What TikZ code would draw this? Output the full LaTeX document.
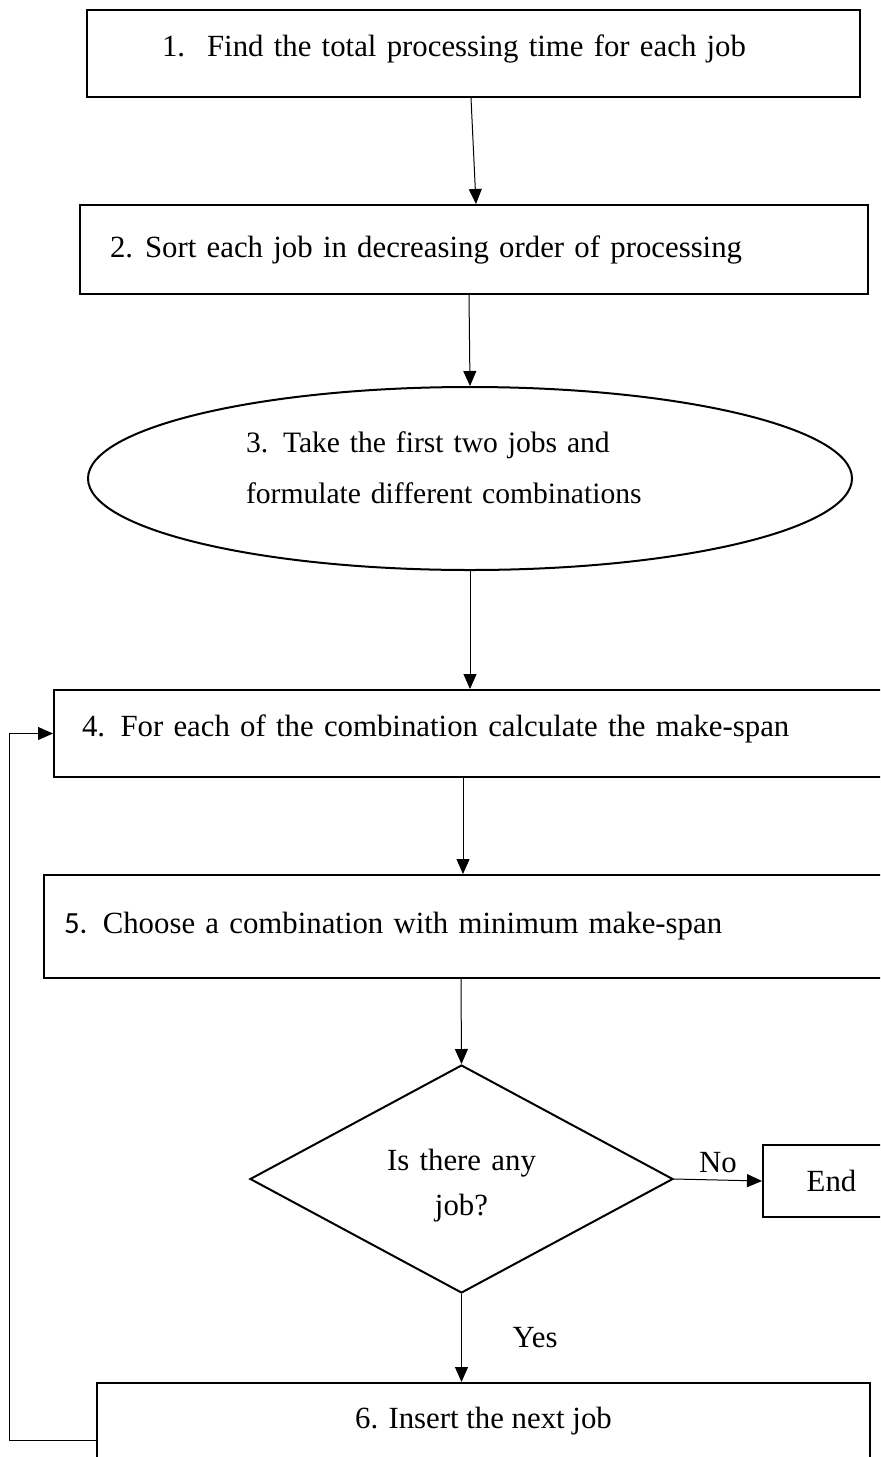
\documentclass[tikz,border=0pt]{standalone}
\usepackage{fontspec}
\setmainfont{Liberation Serif}
\newfontfamily\calfont{Carlito}
\usetikzlibrary{arrows.meta,shapes,positioning,calc}

\begin{document}
\begin{tikzpicture}[
        x=0.5pt, y=-0.5pt,
        every node/.style={font=\fontsize{15.4}{19}\selectfont},
        box/.style={draw, line width=1pt, rectangle, align=left, inner ysep=0pt},
        oval/.style={draw, line width=1pt, ellipse, align=left, inner sep=0pt},
        decision/.style={draw, line width=1pt, diamond, aspect=1.86, align=center, inner sep=0pt},
        flow/.style={-{Triangle[length=7.5pt,width=6.5pt]}, line width=0.5pt}
    ]
    \useasboundingbox (0,0) rectangle (880,1457);
    \clip (0,0) rectangle (880,1457);

    % Nodes
    \node (find)[box, minimum width=386.5pt, minimum height=43.5pt, inner xsep=37.5pt, text width=311.5pt,
        text height=8pt, text depth=5pt]
        at (473.5,53.5) {1.\hspace{11pt}Find the total processing time for each job};
    \node (sort)[box, minimum width=394pt, minimum height=44.5pt, inner xsep=15pt, text width=364pt]
        at (474,249.5) {2.\hspace{6pt}Sort each job in decreasing order of processing};
    \node (take)[oval, minimum width=382pt, minimum height=91.5pt, text width=224pt,
        font=\fontsize{14.8}{25.5}\selectfont, text height=12pt, text depth=38.5pt]
        at (470,478.5) {3. Take the first two jobs and\\ formulate different combinations};
    \node (span)[box, minimum width=423pt, minimum height=43.5pt, inner xsep=14pt, text width=395pt,
        text height=8pt, text depth=5pt]
        at (477,733.5) {4. For each of the combination calculate the make-span};
    \node (choose)[box, minimum width=428pt, minimum height=51.5pt, inner xsep=10pt, text width=408pt]
        at (472,926.5) {{\calfont 5.} Choose a combination with minimum make-span};
    \node (anyjob)[decision, minimum width=211.5pt, minimum height=114pt, text width=80pt,
        font=\fontsize{15.4}{22.5}\selectfont, text height=11pt, text depth=20pt]
        at (461.5,1179) {Is there any\\ job?};
    \node (end)[box, align=center, minimum width=68.5pt, minimum height=36pt]
        at (831.5,1181) {End};
    \node (insert)[box, align=center, minimum width=386.5pt, minimum height=43.5pt,
        text height=8pt, text depth=6pt]
        at (483.5,1426.5) {6. Insert the next job};

    % Edges
    \draw[flow] ($(find.south)+(-2.5,0)$) -- ($(sort.north)+(2,0)$);
    \draw[flow] ($(sort.south)+(-5,0)$) -- (take.north);
    \draw[flow] (take.south) -- (span.north -| take.south);
    \draw[flow] ($(span.south)+(-14,0)$) -- ($(choose.north)+(-9,0)$);
    \draw[flow] ($(choose.south)+(-11,0)$) -- (anyjob.north);
    \draw[flow] (anyjob.east) -- node[above] {No} (end.west);
    \draw[flow] (anyjob.south) -- node[right=22pt] {Yes} (insert.north -| anyjob.south);
    \draw[flow] ($(insert.west)+(0,14)$) -- ++(-87,0) |- (span.west);

\end{tikzpicture}
\end{document}
